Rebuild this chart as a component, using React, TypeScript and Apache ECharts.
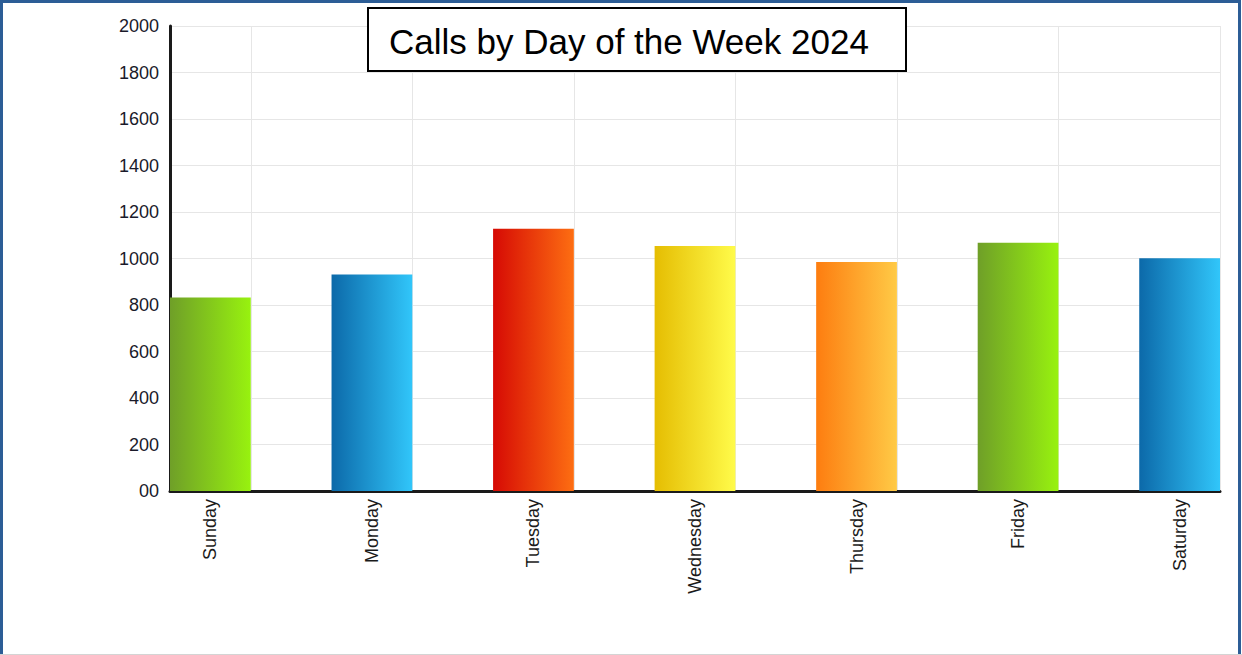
import React, { useEffect, useRef } from 'react';
import * as echarts from 'echarts';

const days = ['Sunday', 'Monday', 'Tuesday', 'Wednesday', 'Thursday', 'Friday', 'Saturday'];
const calls = [832, 931, 1128, 1054, 985, 1068, 1001];
const barColorsLeft = ['#6f9f28', '#0c69a9', '#d60a04', '#e5bd02', '#fd7d10', '#6f9f28', '#0c69a9'];
const barColorsRight = ['#98f20f', '#31c6fa', '#fd6e12', '#fffb4a', '#ffca46', '#98f20f', '#31c6fa'];
const yMin = 0;
const yMax = 2000;
const yStep = 200;
const titleText = 'Calls by Day of the Week 2024';

const FONT = "'Liberation Sans', Arial, sans-serif";

export default function App() {
  const ref = useRef<HTMLDivElement>(null);

  useEffect(() => {
    if (!ref.current) return;
    const chart = echarts.init(ref.current, undefined, { renderer: 'svg' });

    const barData = days.map((d, i) => ({
      value: [i, calls[i]],
      name: d,
      itemStyle: {
        color: new echarts.graphic.LinearGradient(0, 0, 1, 0, [
          { offset: 0, color: barColorsLeft[i] },
          { offset: 1, color: barColorsRight[i] },
        ]),
      },
    }));

    chart.setOption({
      animation: false,
      backgroundColor: '#ffffff',
      grid: { left: 170, right: 22, top: 26, bottom: 164, containLabel: false },
      xAxis: [
        {
          type: 'value',
          position: 'bottom',
          min: -0.25,
          max: days.length - 0.75,
          minInterval: 1,
          maxInterval: 1,
          axisLine: { show: true, onZero: false, lineStyle: { color: '#1a1a1a', width: 3 } },
          axisTick: { show: false },
          splitLine: { show: false },
          axisLabel: {
            rotate: 90,
            margin: 8,
            fontSize: 18,
            fontFamily: FONT,
            color: '#1a1a1a',
            showMinLabel: true,
            showMaxLabel: true,
            formatter: (v: number) => (Number.isInteger(v) && days[v] ? days[v] : ''),
          },
        },
        {
          type: 'value',
          position: 'top',
          min: -0.5,
          max: days.length - 1,
          minInterval: 1,
          maxInterval: 1,
          axisLine: { show: false },
          axisTick: { show: false },
          axisLabel: { show: false },
          splitLine: { show: true, lineStyle: { color: '#e6e6e6', width: 1 } },
        },
      ],
      yAxis: {
        type: 'value',
        min: yMin,
        max: yMax,
        interval: yStep,
        axisLine: { show: true, onZero: false, lineStyle: { color: '#1a1a1a', width: 3 } },
        axisTick: { show: false },
        splitLine: { show: true, lineStyle: { color: '#e6e6e6', width: 1 } },
        axisLabel: {
          margin: 11,
          fontSize: 18,
          fontFamily: FONT,
          color: '#1a1a2a',
          formatter: (v: number) => (v === 0 ? '00' : String(v)),
        },
      },
      series: [
        {
          type: 'bar',
          xAxisIndex: 0,
          yAxisIndex: 0,
          barWidth: '50%',
          data: barData,
        },
      ],
      graphic: [
        {
          type: 'rect',
          z: 100,
          shape: { x: 1.5, y: 1.5, width: 1238, height: 720 },
          style: { fill: 'none', stroke: '#2c5d96', lineWidth: 3 },
        },
        {
          type: 'line',
          z: 100,
          shape: { x1: 0, y1: 654.5, x2: 1242, y2: 654.5 },
          style: { stroke: '#d4d4d4', lineWidth: 1 },
        },
        {
          type: 'rect',
          z: 100,
          shape: { x: 368, y: 8, width: 538, height: 63 },
          style: { fill: '#ffffff', stroke: '#000000', lineWidth: 2 },
        },
        {
          type: 'text',
          z: 101,
          x: 389,
          y: 41,
          style: {
            text: titleText,
            fontSize: 35,
            fontFamily: FONT,
            fill: '#000000',
            verticalAlign: 'middle',
            align: 'left',
          },
        },
      ],
    });

    return () => chart.dispose();
  }, []);

  return (
    <div
      ref={ref}
      style={{ position: 'absolute', left: 0, top: 0, width: 1242, height: 655 }}
    />
  );
}
